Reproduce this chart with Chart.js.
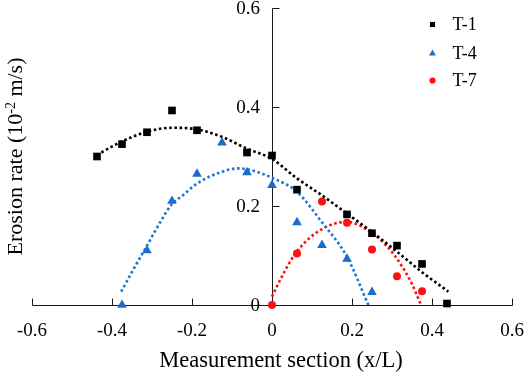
<!DOCTYPE html>
<html>
<head>
<meta charset="utf-8">
<script src="https://cdn.jsdelivr.net/npm/chart.js@4.4.0/dist/chart.umd.min.js"></script>
<style>
html,body{margin:0;padding:0;background:#fff;}
canvas{display:block;}
</style>
</head>
<body>
<canvas id="c" width="526" height="374" style="width:526px;height:374px"></canvas>
<script>
// ---- data ----
const seriesNames = ["T-1", "T-4", "T-7"];

const xT1 = [-0.4375, -0.375, -0.3125, -0.25, -0.1875, -0.0625, 0, 0.0625, 0.1875, 0.25, 0.3125, 0.375, 0.4375];
const yT1 = [0.300, 0.325, 0.349, 0.393, 0.353, 0.308, 0.302, 0.233, 0.183, 0.145, 0.120, 0.083, 0.003];

const xT4 = [-0.375, -0.3125, -0.25, -0.1875, -0.125, -0.0625, 0, 0.0625, 0.125, 0.1875, 0.25];
const yT4 = [0.000, 0.110, 0.210, 0.265, 0.328, 0.268, 0.242, 0.167, 0.121, 0.093, 0.026];

const xT7 = [0, 0.0625, 0.125, 0.1875, 0.25, 0.3125, 0.375];
const yT7 = [0.000, 0.104, 0.209, 0.166, 0.112, 0.058, 0.028];

// dotted trend curves
const trendX1 = [-0.438, -0.376, -0.313, -0.251, -0.188, -0.126, -0.063, 0, 0.062, 0.124, 0.187, 0.249, 0.312, 0.374, 0.441];
const trendY1 = [0.303, 0.330, 0.350, 0.358, 0.355, 0.340, 0.316, 0.295, 0.256, 0.222, 0.185, 0.148, 0.108, 0.067, 0.027];

const trendX4 = [-0.377, -0.343, -0.3125, -0.276, -0.251, -0.222, -0.188, -0.126, -0.084, -0.042, 0, 0.062, 0.124, 0.187, 0.241];
const trendY4 = [0.027, 0.077, 0.120, 0.172, 0.203, 0.222, 0.245, 0.269, 0.276, 0.270, 0.257, 0.229, 0.168, 0.098, 0.000];

const trendX7 = [0.000, 0.031, 0.062, 0.124, 0.187, 0.249, 0.281, 0.312, 0.349, 0.3725];
const trendY7 = [0.017, 0.067, 0.108, 0.153, 0.168, 0.146, 0.124, 0.094, 0.044, 0.000];

const xTicks = [-0.6, -0.4, -0.2, 0, 0.2, 0.4, 0.6];
const xTickLabels = ["-0.6", "-0.4", "-0.2", "0", "0.2", "0.4", "0.6"];
const yTicks = [0, 0.2, 0.4, 0.6];
const yTickLabels = ["0", "0.2", "0.4", "0.6"];

const xTitle = "Measurement section (x/L)";
const yTitleMain = "Erosion rate (10";
const yTitleSup = "-2";
const yTitleEnd = " m/s)";

// ---- styling ----
const BLACK = "#000000", BLUE = "#1a6dc8", RED = "#ff1010";
const FONT = "'Liberation Serif', 'Times New Roman', serif";

function pts(xs, ys){ return xs.map((v,i)=>({x:v, y:ys[i]})); }

function trend(xs, ys, color){
  return {
    data: pts(xs, ys), showLine: true, pointRadius: 0, pointHoverRadius: 0,
    borderColor: color, borderWidth: 2.6, borderDash: [2.6, 2.6], borderCapStyle: 'butt',
    cubicInterpolationMode: 'monotone', fill: false, order: 2, clip: false
  };
}
function marks(xs, ys, color, style, r){
  return {
    data: pts(xs, ys), showLine: false, pointStyle: style, pointRadius: r, pointHoverRadius: r,
    backgroundColor: color, borderColor: color, borderWidth: 0, order: 1, clip: false
  };
}

function drawMarker(ctx, style, x, y, r, color){
  ctx.save();
  ctx.fillStyle = color;
  ctx.beginPath();
  if (style === 'rect'){
    const s = r * Math.SQRT1_2;
    ctx.rect(x - s, y - s, 2*s, 2*s);
  } else if (style === 'triangle'){
    ctx.moveTo(x, y - r);
    ctx.lineTo(x + r*Math.sin(2*Math.PI/3), y - r*Math.cos(2*Math.PI/3));
    ctx.lineTo(x + r*Math.sin(4*Math.PI/3), y - r*Math.cos(4*Math.PI/3));
    ctx.closePath();
  } else {
    ctx.arc(x, y, r, 0, Math.PI*2);
  }
  ctx.fill();
  ctx.restore();
}

const axesPlugin = {
  id: 'axesPlugin',
  beforeDatasetsDraw(chart){
    const {ctx, scales:{x, y}} = chart;
    const x0 = Math.round(x.getPixelForValue(0)) + 0.5;
    const y0 = Math.round(y.getPixelForValue(0)) + 0.5;
    ctx.save();
    ctx.strokeStyle = '#1a1a1a';
    ctx.lineWidth = 1;
    ctx.beginPath();
    ctx.moveTo(Math.round(x.getPixelForValue(xTicks[0])) + 0.5, y0);
    ctx.lineTo(Math.round(x.getPixelForValue(xTicks[xTicks.length-1])) + 0.5, y0);
    ctx.moveTo(x0, y0);
    ctx.lineTo(x0, Math.round(y.getPixelForValue(yTicks[yTicks.length-1])) + 0.5);
    xTicks.forEach(v => {
      if (v === 0) return;
      const px = Math.round(x.getPixelForValue(v)) + 0.5;
      ctx.moveTo(px, y0); ctx.lineTo(px, y0 - 7);
    });
    yTicks.forEach(v => {
      if (v === 0) return;
      const py = Math.round(y.getPixelForValue(v)) + 0.5;
      ctx.moveTo(x0, py); ctx.lineTo(x0 + 7, py);
    });
    ctx.stroke();
    ctx.restore();
  },
  afterDraw(chart){
    const {ctx, scales:{x, y}} = chart;
    const x0 = x.getPixelForValue(0);
    const y0 = y.getPixelForValue(0);
    ctx.save();
    ctx.fillStyle = '#000';
    // tick labels
    ctx.font = "19px " + FONT;
    ctx.textAlign = 'center';
    ctx.textBaseline = 'middle';
    xTicks.forEach((v,i) => ctx.fillText(xTickLabels[i], x.getPixelForValue(v), y0 + 26));
    ctx.textAlign = 'right';
    yTicks.forEach((v,i) => ctx.fillText(yTickLabels[i], x0 - 12, y.getPixelForValue(v) + 1));
    // x title
    ctx.font = "22.5px " + FONT;
    ctx.textAlign = 'center';
    ctx.textBaseline = 'alphabetic';
    ctx.fillText(xTitle, x.getPixelForValue(0.0225), 367);
    // y title (rotated, with superscript)
    const mainFont = "22px " + FONT, supFont = "14px " + FONT;
    ctx.font = mainFont;
    const w1 = ctx.measureText(yTitleMain).width;
    const w3 = ctx.measureText(yTitleEnd).width;
    ctx.font = supFont;
    const w2 = ctx.measureText(yTitleSup).width;
    const total = w1 + w2 + w3;
    const cy = (y.getPixelForValue(0) + y.getPixelForValue(0.6)) / 2;
    ctx.translate(22, cy);
    ctx.rotate(-Math.PI/2);
    ctx.textAlign = 'left';
    let sx = -total/2;
    ctx.font = mainFont; ctx.fillText(yTitleMain, sx, 0); sx += w1;
    ctx.font = supFont; ctx.fillText(yTitleSup, sx, -7); sx += w2;
    ctx.font = mainFont; ctx.fillText(yTitleEnd, sx, 0);
    ctx.restore();
    // legend
    const legendStyles = ['rect', 'triangle', 'circle'];
    const legendColors = [BLACK, BLUE, RED];
    const legendR = [3.6, 3.9, 3.1];
    const legendYs = [24.5, 53, 80.5];
    ctx.save();
    ctx.font = "18px " + FONT;
    ctx.fillStyle = '#000';
    ctx.textAlign = 'left';
    ctx.textBaseline = 'middle';
    seriesNames.forEach((n,i) => {
      drawMarker(ctx, legendStyles[i], 432.5, legendYs[i] + (i===1?0.5:0), legendR[i], legendColors[i]);
      ctx.fillText(n, 452.5, legendYs[i] + 1);
    });
    ctx.restore();
  }
};

new Chart(document.getElementById('c'), {
  type: 'scatter',
  data: {
    datasets: [
      marks(xT1, yT1, BLACK, 'rect', 5.4),
      marks(xT4, yT4, BLUE, 'triangle', 5.6),
      marks(xT7, yT7, RED, 'circle', 4.0),
      trend(trendX1, trendY1, BLACK),
      trend(trendX4, trendY4, '#1f74d4'),
      trend(trendX7, trendY7, RED)
    ]
  },
  options: {
    responsive: false,
    animation: false,
    events: [],
    layout: { padding: { left: 32, right: 14, top: 8, bottom: 69 } },
    scales: {
      x: { type: 'linear', min: -0.6, max: 0.6, display: false },
      y: { type: 'linear', min: 0, max: 0.6, display: false }
    },
    plugins: { legend: { display: false }, tooltip: { enabled: false } }
  },
  plugins: [axesPlugin]
});
</script>
</body>
</html>
